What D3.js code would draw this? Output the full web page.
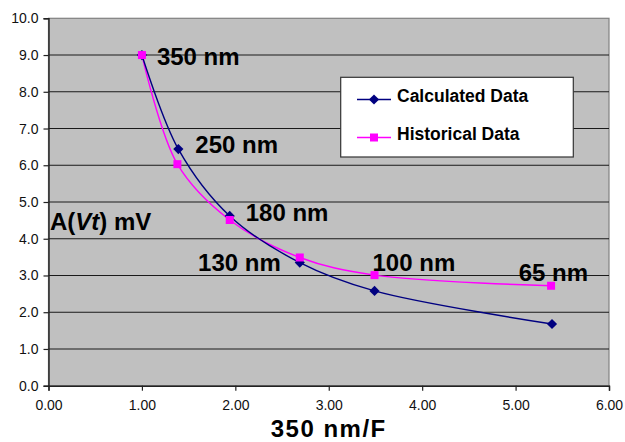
<!DOCTYPE html>
<html>
<head>
<meta charset="utf-8">
<script src="https://cdn.jsdelivr.net/npm/d3@7"></script>
<style>
  html, body { margin: 0; padding: 0; background: #ffffff; }
  svg { display: block; font-family: "Liberation Sans", Arial, sans-serif; }
</style>
</head>
<body>
<svg id="chart" width="625" height="442"></svg>
<script>
// Scaling factor (350 nm / F) and threshold-voltage mismatch A(Vt) in mV
const nodeLabels = ["350 nm", "250 nm", "180 nm", "130 nm", "100 nm", "65 nm"];
const calcX = [1.00, 1.39, 1.94, 2.69, 3.49, 5.39];
const calcY = [9.00, 6.44, 4.62, 3.35, 2.58, 1.68];
const histX = [1.00, 1.38, 1.94, 2.69, 3.49, 5.38];
const histY = [9.00, 6.03, 4.51, 3.49, 3.01, 2.72];
const xTicks = [0, 1, 2, 3, 4, 5, 6];
const yTicks = [0, 1, 2, 3, 4, 5, 6, 7, 8, 9, 10];
const seriesNames = ["Calculated Data", "Historical Data"];

// label placement (pixels from the calculated point; anchor)
const labelOffsets = [
  { dx: 15, dy: 10, anchor: "start" },
  { dx: 17, dy: 4, anchor: "start" },
  { dx: 16, dy: 5, anchor: "start" },
  { dx: -19, dy: 8, anchor: "end" },
  { dx: -2, dy: -20, anchor: "start" },
  { dx: 36, dy: -43, anchor: "end" }
];

const svg = d3.select("#chart");
const plotL = 48.5, plotT = 18.3, plotR = 609, plotB = 385.7;

const x = d3.scaleLinear().domain([0, 6]).range([plotL, plotR]);
const y = d3.scaleLinear().domain([0, 10]).range([plotB, plotT]);

// plot area
svg.append("rect")
  .attr("x", plotL).attr("y", plotT)
  .attr("width", plotR - plotL).attr("height", plotB - plotT)
  .attr("fill", "#c0c0c0")
  .attr("stroke", "#808080").attr("stroke-width", 1.2);

// horizontal gridlines
svg.append("g").selectAll("line")
  .data(yTicks.filter(d => d > 0 && d < 10))
  .join("line")
  .attr("x1", plotL).attr("x2", plotR)
  .attr("y1", d => y(d)).attr("y2", d => y(d))
  .attr("stroke", "#1a1a1a").attr("stroke-width", 1.1);

// axes
const yAxis = svg.append("g")
  .attr("transform", `translate(${plotL},0)`)
  .call(d3.axisLeft(y).tickValues(yTicks).tickFormat(d3.format(".1f")).tickSize(5).tickPadding(5));
const xAxis = svg.append("g")
  .attr("transform", `translate(0,${plotB})`)
  .call(d3.axisBottom(x).tickValues(xTicks).tickFormat(d3.format(".2f")).tickSize(5).tickPadding(9));
[yAxis, xAxis].forEach(g => {
  g.select(".domain").attr("stroke", "#222").attr("stroke-width", 1.4);
  g.selectAll(".tick line").attr("stroke", "#222").attr("stroke-width", 1.2);
  g.selectAll(".tick text")
    .attr("fill", "#111")
    .style("font-family", "'Liberation Sans', Arial, sans-serif")
    .style("font-size", "14px");
});

const calc = calcX.map((v, i) => [v, calcY[i]]);
const hist = histX.map((v, i) => [v, histY[i]]);

const line = d3.line()
  .x(d => x(d[0])).y(d => y(d[1]))
  .curve(d3.curveCatmullRom.alpha(0.5));

svg.append("path").datum(hist)
  .attr("d", line).attr("fill", "none")
  .attr("stroke", "#ff00ff").attr("stroke-width", 1.4);
svg.append("path").datum(calc)
  .attr("d", line).attr("fill", "none")
  .attr("stroke", "#000080").attr("stroke-width", 1.4);

const diamond = d3.symbol().type(d3.symbolDiamond2).size(66);
const square = d3.symbol().type(d3.symbolSquare).size(64);

svg.append("g").selectAll("path")
  .data(calc).join("path")
  .attr("transform", d => `translate(${x(d[0])},${y(d[1])})`)
  .attr("d", diamond).attr("fill", "#000080");
svg.append("g").selectAll("path")
  .data(hist).join("path")
  .attr("transform", d => `translate(${x(d[0])},${y(d[1])})`)
  .attr("d", square).attr("fill", "#ff00ff");

// node labels
svg.append("g").selectAll("text")
  .data(nodeLabels).join("text")
  .attr("x", (d, i) => x(calcX[i]) + labelOffsets[i].dx)
  .attr("y", (d, i) => y(calcY[i]) + labelOffsets[i].dy)
  .attr("text-anchor", (d, i) => labelOffsets[i].anchor)
  .attr("font-size", 24).attr("font-weight", "bold").attr("fill", "#000")
  .text(d => d);

// axis titles
const yt = svg.append("text")
  .attr("x", 50).attr("y", 230)
  .attr("font-size", 24).attr("font-weight", "bold").attr("fill", "#000");
yt.append("tspan").text("A(");
yt.append("tspan").attr("font-style", "italic").text("Vt");
yt.append("tspan").text(") mV");

svg.append("text")
  .attr("x", (plotL + plotR) / 2).attr("y", 437)
  .attr("text-anchor", "middle")
  .attr("font-size", 24).attr("font-weight", "bold").attr("fill", "#000")
  .attr("letter-spacing", 1.5)
  .text("350 nm/F");

// legend
const legend = svg.append("g");
legend.append("rect")
  .attr("x", 340.7).attr("y", 77.3).attr("width", 232.6).attr("height", 79.7)
  .attr("fill", "#ffffff").attr("stroke", "#333").attr("stroke-width", 1.2);
const legendRows = [
  { name: seriesNames[0], color: "#000080", sym: diamond, cy: 99.5 },
  { name: seriesNames[1], color: "#ff00ff", sym: square, cy: 137.5 }
];
legendRows.forEach(r => {
  legend.append("line")
    .attr("x1", 357).attr("x2", 391).attr("y1", r.cy).attr("y2", r.cy)
    .attr("stroke", r.color).attr("stroke-width", 1.4);
  legend.append("path")
    .attr("transform", `translate(374,${r.cy})`)
    .attr("d", r.sym).attr("fill", r.color);
  legend.append("text")
    .attr("x", 397).attr("y", r.cy + 2.5)
    .attr("font-size", 17.5).attr("font-weight", "bold").attr("fill", "#000")
    .text(r.name);
});
</script>
</body>
</html>
